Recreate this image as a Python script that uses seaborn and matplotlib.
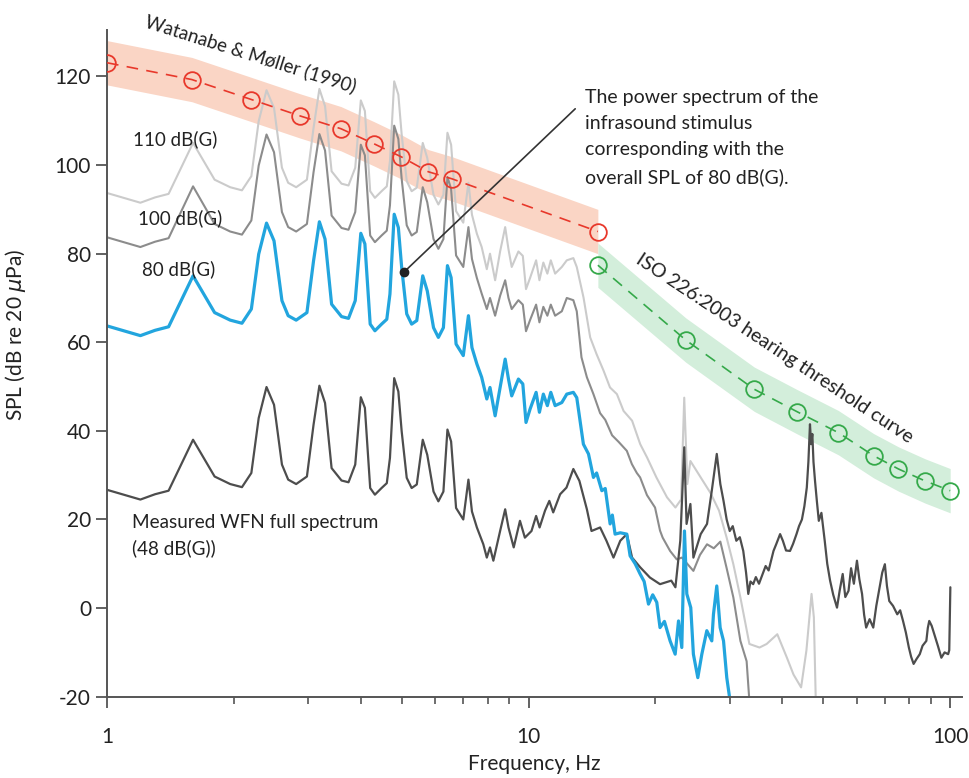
import numpy as np
import pandas as pd
import matplotlib
matplotlib.use("Agg")
import matplotlib.pyplot as plt
from matplotlib.ticker import NullFormatter, LogLocator
import seaborn as sns

# ---- data ----
# shared low-frequency grid (harmonics of 0.8 Hz region)
f_low = [1.0, 1.2, 1.3, 1.4, 1.6, 1.8, 1.96, 2.09, 2.2, 2.29, 2.39, 2.49, 2.6, 2.69, 2.81,
         2.98, 3.09, 3.19, 3.29, 3.41, 3.6, 3.74, 3.88, 4.0, 4.09, 4.21, 4.32, 4.48, 4.61,
         4.69, 4.8, 4.91, 5.0, 5.14, 5.28, 5.43, 5.61, 5.75, 5.95, 6.11, 6.28, 6.42, 6.55,
         6.73, 7.0, 7.2, 7.34]
spl80_low = [63.7, 61.5, 62.7, 63.5, 75.0, 66.7, 65.0, 64.3, 67.5, 79.9, 86.9, 82.9, 69.4,
             66.0, 65.0, 66.7, 78.4, 87.2, 83.3, 68.6, 65.8, 65.4, 69.4, 84.6, 82.2, 64.1,
             62.6, 64.1, 65.2, 70.9, 88.9, 85.9, 76.9, 66.4, 64.1, 64.9, 75.0, 71.6, 63.3,
             61.1, 63.3, 77.3, 74.6, 59.6, 57.0, 66.0, 58.8]
spl100_low = [83.7, 81.5, 82.7, 83.5, 95.2, 86.7, 85.0, 84.3, 87.5, 99.9, 106.9, 102.9, 89.4,
              86.0, 85.0, 86.7, 98.4, 107.0, 103.3, 88.6, 85.8, 85.4, 89.4, 104.6, 102.2, 84.1,
              82.6, 84.1, 85.2, 90.9, 108.9, 105.9, 96.9, 86.4, 84.1, 84.9, 95.0, 91.6, 83.3,
              81.1, 83.3, 97.3, 94.6, 79.6, 77.0, 86.0, 78.8]
spl110_low = [93.7, 91.5, 92.7, 93.5, 105.0, 96.7, 95.0, 94.3, 97.5, 109.9, 116.9, 112.9, 99.4,
              96.0, 95.0, 96.7, 108.4, 117.2, 113.3, 98.6, 95.8, 95.4, 99.4, 114.6, 112.2, 94.1,
              92.6, 94.1, 95.2, 100.9, 118.9, 115.9, 106.9, 96.4, 94.1, 94.9, 105.0, 101.6, 93.3,
              91.1, 93.3, 107.3, 104.6, 89.6, 87.0, 96.0, 88.8]
wfn_low = [26.7, 24.5, 25.7, 26.5, 38.0, 29.7, 28.0, 27.3, 30.5, 42.9, 49.9, 45.9, 32.4,
           29.0, 28.0, 29.7, 41.4, 50.2, 46.3, 31.6, 28.8, 28.4, 32.4, 47.6, 45.2, 27.1,
           25.6, 27.1, 28.2, 33.9, 51.9, 48.9, 39.9, 29.4, 27.1, 27.9, 38.0, 34.6, 26.3,
           24.1, 26.3, 40.3, 37.6, 22.6, 20.0, 29.0, 21.8]

# shared mid grid for the three stimulus spectra
f_mid = [7.54, 7.74, 7.96, 8.1, 8.33, 8.56, 8.8, 8.96, 9.12, 9.46, 9.69, 9.86, 10.08, 10.42,
         10.61, 10.84, 11.08, 11.29, 11.56, 11.99, 12.32, 12.77, 13.01]
spl80_mid = [55.1, 52.1, 47.2, 49.8, 43.4, 49.8, 56.2, 51.7, 47.9, 51.7, 50.6, 41.9, 44.9,
             48.7, 44.2, 48.3, 45.7, 48.7, 45.7, 46.4, 48.3, 48.7, 47.5]
spl100_mid = [74.5, 71.0, 67.5, 70.0, 66.0, 70.5, 74.0, 70.0, 67.5, 69.5, 68.5, 62.5, 65.0,
              68.5, 64.5, 68.0, 66.0, 68.5, 66.0, 67.0, 70.0, 69.5, 67.0]
spl110_mid = [84.5, 81.5, 76.5, 80.0, 74.0, 80.5, 86.0, 81.0, 77.0, 80.5, 79.5, 72.0, 74.5,
              78.5, 74.0, 78.0, 75.5, 78.5, 75.5, 77.0, 78.5, 79.0, 77.0]

# high-frequency tails
f80_hi = [13.49, 13.87, 14.0, 14.25, 14.5, 14.92, 15.2, 15.61, 15.8, 16.04, 16.5, 17.1, 17.41,
          17.9, 18.39, 18.8, 19.25, 19.7, 20.14, 20.5, 21.0, 21.66, 22.27, 22.68, 23.09,
          23.43, 23.73, 24.25, 24.6, 25.2, 25.76, 26.47, 27.2, 27.45, 27.95, 28.47, 29.0,
          29.52, 30.06]
spl80_hi = [37.0, 34.8, 33.0, 29.5, 30.5, 26.5, 27.0, 19.0, 21.0, 16.7, 17.0, 16.7, 11.8,
            10.0, 7.7, 6.0, 0.9, 3.0, 1.3, -4.4, -3.0, -7.4, -10.4, -2.9, -8.9, 17.4, 3.2,
            0.1, -10.4, -15.7, -10.4, -5.1, -7.4, -1.4, 5.0, -4.4, -7.4, -15.7, -21.0]
f100_hi = [13.35, 13.75, 14.25, 14.78, 15.2, 15.78, 16.36, 17.1, 17.58, 18.06, 18.39, 19.09,
           19.95, 20.5, 20.8, 21.66, 22.46, 23.1, 24.6, 25.5, 26.5, 27.5, 28.5, 29.5, 30.6,
           31.8, 32.9, 33.4]
spl100_hi = [56.6, 52.1, 48.3, 44.0, 42.5, 39.0, 37.5, 35.5, 32.5, 30.5, 29.5, 25.5, 22.7,
             17.5, 15.9, 12.9, 11.0, 11.4, 8.4, 12.0, 14.4, 13.5, 15.0, 9.0, 2.4, -7.4,
             -12.0, -21.0]
f110_hi = [13.5, 14.0, 14.5, 15.06, 15.6, 16.2, 16.8, 17.6, 18.4, 19.1, 20.1, 21.3, 22.3,
           23.0, 23.4, 23.8, 24.2, 25.6, 27.0, 28.3, 29.5, 30.6, 31.8, 33.4, 35.3, 36.7,
           38.9, 41.0, 42.5, 44.3, 45.6, 46.9, 47.5, 48.0]
spl110_hi = [70.1, 61.1, 57.3, 53.6, 49.8, 48.3, 44.5, 42.3, 37.0, 34.0, 29.5, 25.0, 22.7,
             24.5, 47.5, 28.0, 33.2, 29.5, 26.0, 22.0, 15.9, 9.9, 2.4, -8.1, -8.9, -8.1,
             -5.9, -11.2, -15.0, -17.9, -9.6, 3.2, -2.1, -21.0]
fwfn_hi = [7.54, 7.81, 7.96, 8.1, 8.25, 8.56, 8.8, 8.96, 9.22, 9.54, 9.8, 10.16, 10.42, 10.62,
           10.94, 11.2, 11.44, 11.88, 12.3, 12.77, 13.2, 13.75, 14.1, 14.78, 15.3, 15.9, 16.5,
           17.1, 17.6, 18.4, 19.4, 20.5, 21.8, 22.3, 22.9, 23.4, 23.7, 24.2, 24.6, 25.6, 26.5,
           27.2, 27.95, 28.5, 29.0, 29.5, 30.0, 30.5, 31.1, 31.7, 32.3, 32.8, 33.2, 33.6,
           34.1, 34.6, 35.2, 35.9, 36.5, 37.1, 38.1, 38.7, 39.5, 40.1, 40.8, 41.7, 42.4,
           43.2, 43.8, 44.5, 45.1, 45.7, 46.1, 46.5, 46.8, 47.1, 47.4, 47.8, 48.3, 48.8,
           49.5, 50.4, 51.1, 51.9, 52.8, 53.9, 54.7, 55.6, 56.4, 57.4, 58.2, 59.1, 60.1,
           60.9, 61.8, 62.5, 63.2, 64.4, 65.7, 66.8, 68.0, 69.0, 70.0, 70.8, 71.7, 73.2,
           74.9, 76.1, 77.3, 78.5, 79.8, 80.8, 81.9, 83.2, 84.7, 86.0, 87.8, 88.5, 89.2,
           90.4, 91.7, 93.5, 95.3, 97.0, 98.9, 99.5, 100.1]
wfn_hi = [18.2, 14.4, 11.4, 13.7, 10.7, 17.4, 22.3, 18.2, 13.7, 19.7, 15.9, 17.4, 20.8, 18.2,
          22.0, 24.2, 21.6, 25.7, 27.2, 31.4, 28.7, 22.3, 17.4, 18.2, 15.2, 11.4, 15.2, 16.7,
          11.4, 9.2, 6.9, 5.4, 6.2, 4.7, 15.2, 36.3, 19.0, 23.5, 11.4, 16.7, 19.0, 26.5, 34.8,
          28.0, 24.2, 20.0, 17.4, 18.5, 15.2, 16.0, 12.9, 8.0, 3.2, 6.0, 5.4, 7.0, 5.5, 7.7,
          9.5, 8.5, 12.9, 14.5, 16.7, 15.2, 13.0, 12.9, 14.5, 16.7, 18.5, 20.0, 23.0, 27.2,
          33.0, 41.5, 37.0, 39.3, 33.0, 28.7, 24.0, 19.7, 21.5, 15.2, 10.0, 6.2, 3.0, 0.1,
          4.0, 7.7, 2.5, 3.9, 9.0, 5.5, 10.7, 6.5, 3.2, -1.5, -4.4, -2.5, -4.4, 0.5, 4.7,
          8.0, 9.9, 5.0, 1.6, 0.5, -1.4, -0.5, -2.9, -5.5, -8.9, -11.0, -12.6, -11.5, -10.4,
          -8.5, -7.4, -4.5, -2.9, -4.0, -5.9, -8.5, -11.2, -10.0, -10.4, -9.5, 4.7]

# threshold curves
wm_freq = [1.0, 1.59, 2.2, 2.87, 3.59, 4.3, 4.98, 5.78, 6.58, 14.6]
wm_spl = [123.1, 119.3, 114.8, 111.1, 108.2, 104.8, 101.9, 98.5, 96.9, 85.0]
iso_freq = [14.6, 23.6, 34.3, 43.4, 54.3, 65.8, 75.4, 87.2, 100.0]
iso_spl = [77.4, 60.5, 49.4, 44.3, 39.6, 34.4, 31.4, 28.7, 26.5]
band_half = 5.0

# ---- figure ----
sns.set_style("ticks")
plt.rcParams["font.family"] = ["Lato", "DejaVu Sans"]
plt.rcParams["mathtext.fontset"] = "dejavusans"
plt.rcParams["axes.unicode_minus"] = False

fig = plt.figure(figsize=(9.7, 7.78), dpi=100)
ax = fig.add_axes([0.1103, 0.1045, 0.8815, 0.857])
ax.set_xscale("log")

wm = np.array(wm_spl)
iso = np.array(iso_spl)
ax.fill_between(wm_freq, wm - band_half, wm + band_half, color="#fad5c5", lw=0, zorder=1)
ax.fill_between(iso_freq, iso - band_half, iso + band_half, color="#d3eedb", lw=0, zorder=1)

spectra = [
    ("110 dB(G)", f_low + f_mid + f110_hi, spl110_low + spl110_mid + spl110_hi, "#cbcbcb", 1.5),
    ("100 dB(G)", f_low + f_mid + f100_hi, spl100_low + spl100_mid + spl100_hi, "#8c8c8c", 1.5),
    ("48 dB(G)", f_low + fwfn_hi, wfn_low + wfn_hi, "#4d4d4d", 1.6),
    ("80 dB(G)", f_low + f_mid + f80_hi, spl80_low + spl80_mid + spl80_hi, "#22a5de", 2.3),
]
for name, fx, fy, col, lw in spectra:
    d = pd.DataFrame({"f": fx, "spl": fy})
    sns.lineplot(data=d, x="f", y="spl", ax=ax, color=col, lw=lw, sort=False,
                 estimator=None, zorder=2)

sns.lineplot(x=wm_freq, y=wm_spl, ax=ax, color="#e8382b", lw=1.2, dashes=False,
             linestyle=(0, (7, 5)), marker="o", markersize=12, markerfacecolor="none",
             markeredgecolor="#e8382b", markeredgewidth=1.3, sort=False, estimator=None,
             zorder=3)
sns.lineplot(x=iso_freq, y=iso_spl, ax=ax, color="#35a94a", lw=1.2, dashes=False,
             linestyle=(0, (7, 5)), marker="o", markersize=12, markerfacecolor="none",
             markeredgecolor="#35a94a", markeredgewidth=1.3, sort=False, estimator=None,
             zorder=3)

# annotation pointer
ax.plot([5.07, 12.9], [75.9, 112.7], color="#333333", lw=1.2, zorder=4)
ax.plot([5.07], [75.9], "o", color="#222222", ms=6, zorder=5)

tc = "#222222"
ax.text(13.6, 106.2, "The power spectrum of the\ninfrasound stimulus\ncorresponding with the\noverall SPL of 80 dB(G).",
        fontsize=14, color=tc, va="center", ha="left", linespacing=1.65)
ax.text(1.152, 105.9, "110 dB(G)", fontsize=13.5, color=tc, va="center")
ax.text(1.185, 88.1, "100 dB(G)", fontsize=13.5, color=tc, va="center")
ax.text(1.21, 76.6, "80 dB(G)", fontsize=13.5, color=tc, va="center")
ax.text(1.146, 16.3, "Measured WFN full spectrum\n(48 dB(G))", fontsize=13.6, color=tc,
        va="center", linespacing=1.55)
ax.text(2.196, 125.2, "Watanabe & Møller (1990)", fontsize=13.5, color=tc, rotation=-17.5,
        ha="center", va="center", rotation_mode="anchor")
ax.text(38.4, 58.6, "ISO 226:2003 hearing threshold curve", fontsize=14, color=tc,
        rotation=-33.5, ha="center", va="center", rotation_mode="anchor")

ax.set_xlim(1, 106.7)
ax.set_ylim(-20, 130.5)
ax.set_yticks([-20, 0, 20, 40, 60, 80, 100, 120])
ax.set_xticks([1, 10, 100])
ax.set_xticklabels(["1", "10", "100"])
ax.xaxis.set_minor_locator(LogLocator(base=10, subs=np.arange(2, 10)))
ax.xaxis.set_minor_formatter(NullFormatter())

sns.despine(ax=ax)
for s in ["left", "bottom"]:
    ax.spines[s].set_color("#555555")
    ax.spines[s].set_linewidth(1.4)
ax.tick_params(axis="both", which="major", direction="out", length=8, width=1.3,
               color="#555555", labelsize=15, labelcolor=tc)
ax.tick_params(axis="x", which="major", pad=14)
ax.tick_params(axis="x", which="minor", direction="out", length=5, width=1.2, color="#555555")

ax.set_xlabel("Frequency, Hz", fontsize=15, color=tc, labelpad=5)
ax.set_ylabel(r"SPL (dB re 20 $\mu$Pa)", fontsize=15, color=tc)
ax.yaxis.set_label_coords(-0.092, 0.5425)

fig.savefig("out.png", dpi=100)
